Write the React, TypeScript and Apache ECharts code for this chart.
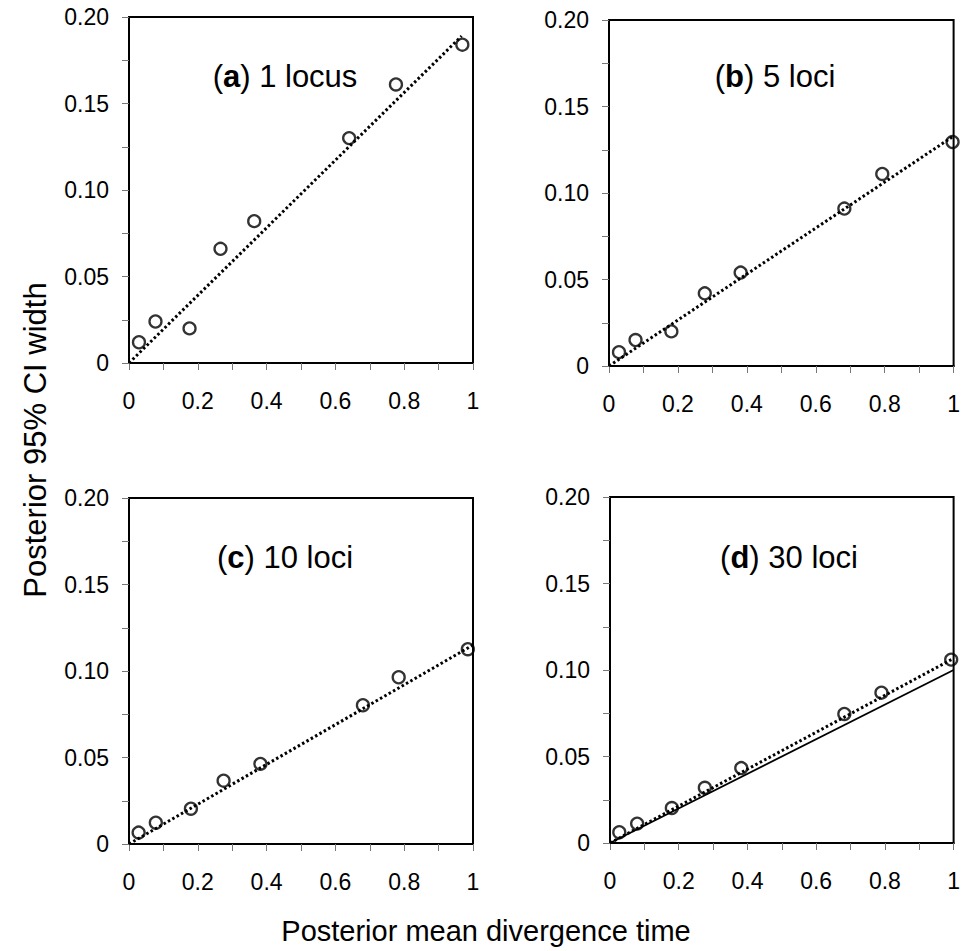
import React, { useEffect, useRef } from "react";
import * as echarts from "echarts";

// ---- data ----
const xA = [0.029, 0.077, 0.176, 0.266, 0.364, 0.64, 0.776, 0.969];
const yA = [0.012, 0.024, 0.02, 0.066, 0.082, 0.13, 0.161, 0.184];
const fitA = [[0, 0], [0.967, 0.189]];

const xB = [0.029, 0.077, 0.181, 0.278, 0.382, 0.683, 0.793, 0.997];
const yB = [0.008, 0.015, 0.02, 0.042, 0.054, 0.091, 0.111, 0.1295];
const fitB = [[0, 0], [0.997, 0.1325]];

const xC = [0.028, 0.078, 0.18, 0.275, 0.382, 0.68, 0.784, 0.985];
const yC = [0.0066, 0.0123, 0.0204, 0.0366, 0.0463, 0.0802, 0.0964, 0.1126];
const fitC = [[0, 0], [1, 0.115]];

const xD = [0.027, 0.079, 0.18, 0.276, 0.382, 0.682, 0.79, 0.993];
const yD = [0.0062, 0.0112, 0.0202, 0.0319, 0.0433, 0.0746, 0.0869, 0.106];
const fitD = [[0, 0], [1, 0.1067]];
const theoryD = [[0, 0], [1, 0.1]];

const panelLetters = ["a", "b", "c", "d"];
const panelNames = ["1 locus", "5 loci", "10 loci", "30 loci"];

const xTitle = "Posterior mean divergence time";
const yTitle = "Posterior 95% CI width";

const FONT = "'Liberation Sans', Arial, Helvetica, sans-serif";

export default function App() {
  const ref = useRef<HTMLDivElement>(null);

  useEffect(() => {
    if (!ref.current) return;
    const chart = echarts.init(ref.current, undefined, { renderer: "svg" });

    const grids = [
      { left: 129, top: 17, width: 344, height: 346 },
      { left: 609, top: 20, width: 346, height: 346 },
      { left: 129, top: 498, width: 344, height: 346 },
      { left: 610, top: 497, width: 345, height: 346 },
    ];
    const titlePos = [
      [285, 76],
      [775, 76],
      [285, 557],
      [789, 557],
    ];
    const xs = [xA, xB, xC, xD];
    const ys = [yA, yB, yC, yD];
    const fits = [fitA, fitB, fitC, fitD];

    const tickStyle = { show: true, inside: false, length: 7, lineStyle: { color: "#777", width: 1 } };
    const axisLineStyle = { show: true, onZero: false, lineStyle: { color: "#000", width: 2 } };

    const xAxes = grids.map((_, i) => ({
      type: "value",
      gridIndex: i,
      min: 0,
      max: 1,
      interval: 0.1,
      axisLine: axisLineStyle,
      axisTick: tickStyle,
      splitLine: { show: false },
      axisLabel: {
        margin: 26,
        fontSize: 23,
        fontFamily: FONT,
        color: "#000",
        formatter: (v: number) => {
          const k = Math.round(v * 10);
          if (k % 2) return "";
          if (k === 0) return "0";
          if (k === 10) return "1";
          return (k / 10).toFixed(1);
        },
      },
    }));
    const yAxes = grids.map((_, i) => ({
      type: "value",
      gridIndex: i,
      min: 0,
      max: 0.2,
      interval: 0.025,
      axisLine: axisLineStyle,
      axisTick: tickStyle,
      splitLine: { show: false },
      axisLabel: {
        margin: 20,
        fontSize: 23,
        fontFamily: FONT,
        color: "#000",
        formatter: (v: number) => {
          const k = Math.round(v / 0.025);
          if (k % 2) return "";
          if (k === 0) return "0";
          return (k * 0.025).toFixed(2);
        },
      },
    }));

    const series: any[] = [];
    grids.forEach((_, i) => {
      series.push({
        type: "line",
        xAxisIndex: i,
        yAxisIndex: i,
        data: fits[i],
        symbol: "none",
        lineStyle: { color: "#000", width: 3, type: [2.5, 2.5] },
        z: 2,
      });
      series.push({
        type: "scatter",
        xAxisIndex: i,
        yAxisIndex: i,
        data: xs[i].map((x, j) => [x, ys[i][j]]),
        symbol: "circle",
        symbolSize: 12,
        itemStyle: { color: "rgba(0,0,0,0)", borderColor: "#000", borderWidth: 2.3 },
        z: 3,
      });
    });
    series.push({
      type: "line",
      xAxisIndex: 3,
      yAxisIndex: 3,
      data: theoryD,
      symbol: "none",
      lineStyle: { color: "#000", width: 1.8, type: "solid" },
      z: 2,
    });

    const graphics: any[] = titlePos.map((p, i) => ({
      type: "text",
      x: p[0],
      y: p[1],
      style: {
        text: `({b|${panelLetters[i]}}) ${panelNames[i]}`,
        fontSize: 31,
        fontFamily: FONT,
        fill: "#000",
        align: "center",
        verticalAlign: "middle",
        rich: {
          b: { fontSize: 31, fontWeight: "bold", fontFamily: FONT, fill: "#000" },
        },
      },
    }));
    graphics.push({
      type: "text",
      x: 486,
      y: 931,
      style: {
        text: xTitle,
        fontSize: 29,
        fontFamily: FONT,
        fill: "#000",
        align: "center",
        verticalAlign: "middle",
      },
    });
    graphics.push({
      type: "text",
      x: 35,
      y: 440,
      rotation: Math.PI / 2,
      style: {
        text: yTitle,
        fontSize: 31,
        fontFamily: FONT,
        fill: "#000",
        align: "center",
        verticalAlign: "middle",
      },
    });

    chart.setOption({
      animation: false,
      backgroundColor: "#fff",
      grid: grids.map((g) => ({ ...g, show: true, borderColor: "#000", borderWidth: 2, backgroundColor: "transparent" })),
      xAxis: xAxes,
      yAxis: yAxes,
      series,
      graphic: graphics,
    });

    return () => chart.dispose();
  }, []);

  return (
    <div
      ref={ref}
      style={{ position: "absolute", left: 0, top: 0, width: 963, height: 951, background: "#fff" }}
    />
  );
}
